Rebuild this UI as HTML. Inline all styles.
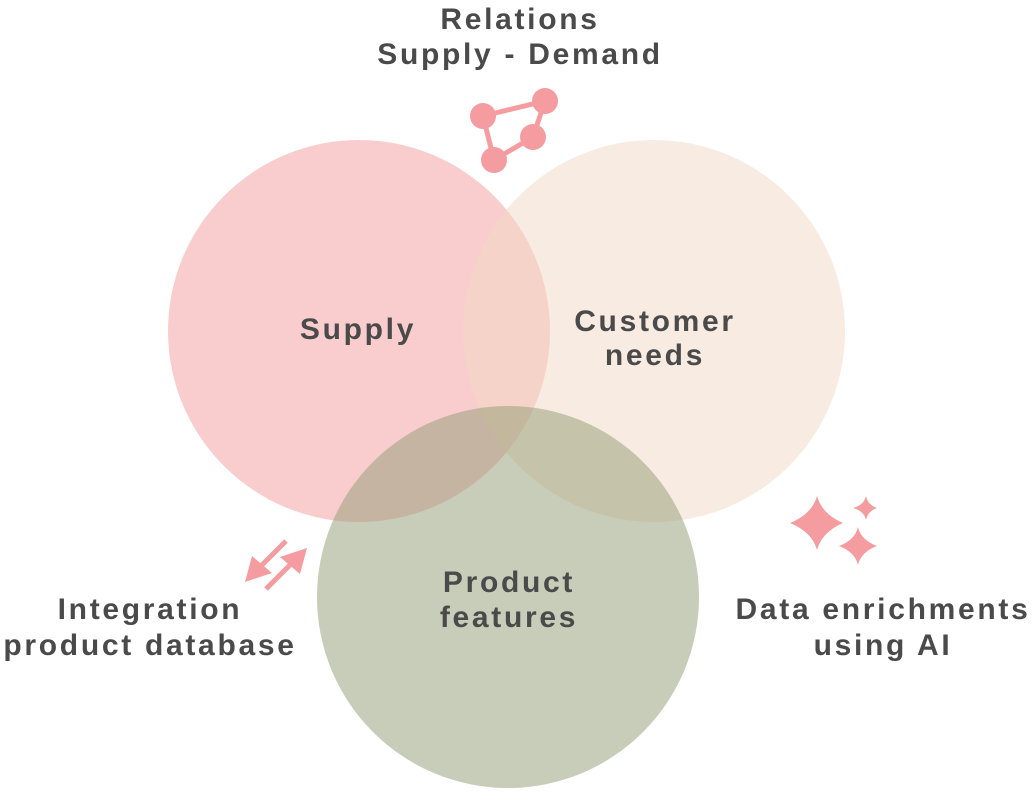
<!DOCTYPE html>
<html><head><style>
body{margin:0;background:#fff;width:1032px;height:788px;overflow:hidden}
svg text{font-family:"Liberation Sans",sans-serif;fill:#4a4a4a;font-size:30px;font-weight:bold;letter-spacing:2.7px;text-anchor:middle}
</style></head><body>
<svg width="1032" height="788" viewBox="0 0 1032 788">
<circle cx="359" cy="331" r="191" fill="#f9cdce"/>
<circle cx="654" cy="331" r="191" fill="rgba(242,217,197,0.52)"/>
<circle cx="508" cy="597" r="191" fill="rgba(145,155,115,0.5)"/>
<text x="358" y="339">Supply</text>
<text x="655" y="331">Customer</text>
<text x="655" y="365">needs</text>
<text x="509" y="592">Product</text>
<text x="509" y="627">features</text>
<text x="520" y="29">Relations</text>
<text x="520" y="64">Supply - Demand</text>
<text x="150" y="619">Integration</text>
<text x="150" y="655">product database</text>
<text x="883" y="619">Data enrichments</text>
<text x="883" y="655">using AI</text>
<g stroke="#f59ca0" stroke-width="5" fill="#f59ca0">
<line x1="483" y1="116" x2="545" y2="101"/>
<line x1="545" y1="101" x2="533" y2="137"/>
<line x1="533" y1="137" x2="494" y2="160"/>
<line x1="494" y1="160" x2="483" y2="116"/>
<circle cx="483" cy="116" r="13" stroke="none"/>
<circle cx="545" cy="101" r="13" stroke="none"/>
<circle cx="533" cy="137" r="13" stroke="none"/>
<circle cx="494" cy="160" r="13" stroke="none"/>
<line x1="286" y1="541" x2="262" y2="565"/>
<polygon points="245,582 252,556 272,573" stroke="none"/>
<line x1="266" y1="589" x2="290" y2="565"/>
<polygon points="307,548 300,574 280,557" stroke="none"/>
</g>
<g fill="#f59ca0">
<path d="M817,496 Q822,514 843,523 Q822,532 817,550 Q812,532 790,523 Q812,514 817,496Z"/>
<path d="M866,496 Q868,505 877,508 Q868,511 866,520 Q864,511 853,508 Q864,505 866,496Z"/>
<path d="M858,527 Q861,540 877,546 Q861,552 858,565 Q855,552 839,546 Q855,540 858,527Z"/>
</g>
</svg>
</body></html>
